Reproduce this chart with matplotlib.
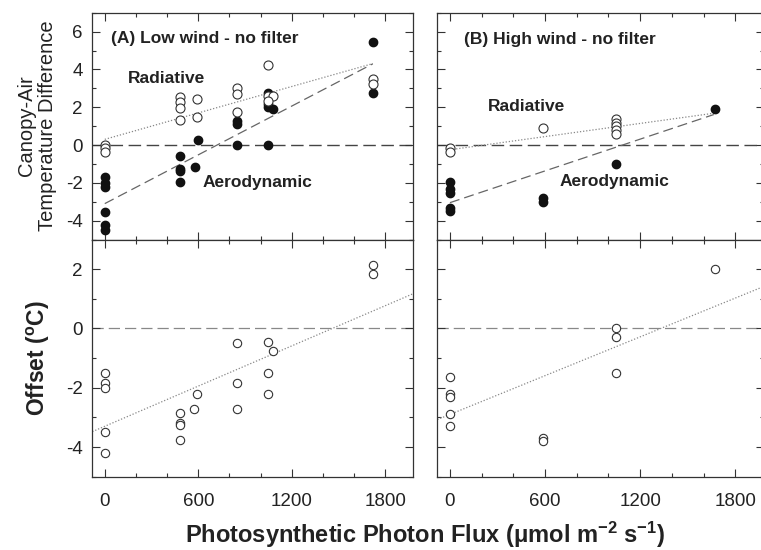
import matplotlib
matplotlib.use('Agg')
import matplotlib.pyplot as plt
import numpy as np
from matplotlib.ticker import MultipleLocator


# canopy-air temperature difference and offset vs PPF, low and high wind


plt.rcParams['font.family'] = ['Liberation Sans', 'DejaVu Sans']
plt.rcParams['axes.unicode_minus'] = False
plt.rcParams['mathtext.fontset'] = 'custom'
plt.rcParams['mathtext.rm'] = 'Liberation Sans'
plt.rcParams['mathtext.bf'] = 'Liberation Sans:bold'
plt.rcParams['mathtext.it'] = 'Liberation Sans:italic'

# (A) low wind, upper panel
a_rad_x = [0, 0, 0, 480, 480, 480, 480, 590, 590, 850, 850, 850, 1050, 1050, 1080, 1050, 1720, 1720]
a_rad_y = [0.0, -0.15, -0.35, 2.55, 2.25, 1.95, 1.3, 2.45, 1.5, 3.0, 2.7, 1.75, 4.25, 2.6, 2.6, 2.35, 3.5, 3.25]
a_aero_x = [0, 0, 0, 0, 0, 0, 480, 480, 480, 480, 600, 580, 850, 850, 850, 1050, 1050, 1050, 1080, 1050, 1720, 1720]
a_aero_y = [-1.7, -2.0, -2.2, -3.55, -4.25, -4.5, -0.6, -1.25, -1.4, -1.95, 0.25, -1.15, 1.25, 1.1, 0.0,
            2.75, 2.15, 2.0, 1.9, 0.0, 5.45, 2.75]

# (B) high wind, upper panel
b_rad_x = [0, 0, 585, 1050, 1050, 1050, 1050, 1050]
b_rad_y = [-0.15, -0.35, 0.9, 1.35, 1.15, 1.0, 0.8, 0.6]
b_aero_x = [0, 0, 0, 0, 0, 585, 585, 1050, 1670]
b_aero_y = [-1.95, -2.35, -2.55, -3.35, -3.5, -2.8, -3.0, -1.0, 1.9]

# offsets, lower panels
a_off_x = [0, 0, 0, 0, 0, 480, 480, 480, 480, 590, 575, 850, 850, 850, 1050, 1050, 1050, 1080, 1720, 1720]
a_off_y = [-1.5, -1.85, -2.0, -3.5, -4.2, -2.85, -3.2, -3.25, -3.75, -2.2, -2.7, -0.5, -1.85, -2.7,
           -0.45, -1.5, -2.2, -0.75, 2.15, 1.85]
b_off_x = [0, 0, 0, 0, 0, 585, 585, 1050, 1050, 1050, 1670]
b_off_y = [-1.65, -2.2, -2.3, -2.9, -3.3, -3.7, -3.8, 0.0, -0.3, -1.5, 2.0]

# regression lines: (intercept, slope, x end)
a_rad_fit = (0.3, 0.00233, 1720)
a_aero_fit = (-3.1, 0.0043, 1720)
b_rad_fit = (-0.25, 0.00116, 1665)
b_aero_fit = (-3.05, 0.0028, 1665)
a_off_fit = (-3.3, 0.00226)
b_off_fit = (-2.9, 0.00218)

x_ticks = [0, 600, 1200, 1800]
xlim = (-80, 1980)


def style_axes(ax, ylim, show_x, show_y):
    ax.set_xlim(*xlim)
    ax.set_ylim(*ylim)
    ax.set_xticks(x_ticks)
    ax.xaxis.set_minor_locator(MultipleLocator(200))
    ax.yaxis.set_major_locator(MultipleLocator(2))
    ax.yaxis.set_minor_locator(MultipleLocator(1))
    ax.tick_params(which='both', direction='in', top=True, right=True, colors='#333333',
                   labelsize=13.5, labelcolor='#222222', width=0.8)
    ax.tick_params(which='major', length=6)
    ax.tick_params(which='minor', length=3)
    ax.tick_params(axis='y', which='major', pad=7)
    ax.tick_params(axis='x', which='major', pad=11.5)
    ax.tick_params(labelbottom=show_x, labelleft=show_y)
    for s in ax.spines.values():
        s.set_color('#333333')
        s.set_linewidth(0.9)


def fit_line(ax, fit, ls, color):
    x = np.array([0, fit[2]])
    ax.plot(x, fit[0] + fit[1] * x, linestyle=ls, color=color, linewidth=0.9, zorder=2)


def upper_panel(ax, rx, ry, ax_, ay, rfit, afit, title, pos):
    ax.axhline(0, color='#444444', linewidth=1.0, dashes=(9, 4), zorder=1)
    fit_line(ax, rfit, (0, (1, 1.5)), '#888888')
    fit_line(ax, afit, (0, (8, 4)), '#666666')
    ax.plot(ax_, ay, 'o', ms=6, color='#111111', mec='#111111', zorder=3)
    ax.plot(rx, ry, 'o', ms=6.5, mfc='white', mec='#333333', mew=0.8, zorder=4)
    for (x, y), s in zip(pos, [title, 'Radiative', 'Aerodynamic']):
        ax.text(x, y, s, fontsize=12.5, fontweight='bold', va='center', color='#222222')


def lower_panel(ax, x, y, fit):
    ax.axhline(0, color='#888888', linewidth=0.9, dashes=(9, 4), zorder=1)
    xl = np.array(xlim)
    ax.plot(xl, fit[0] + fit[1] * xl, linestyle=(0, (1, 1.5)), color='#888888', linewidth=0.9, zorder=2)
    ax.plot(x, y, 'o', ms=6, mfc='white', mec='#333333', mew=0.8, zorder=3)


fig = plt.figure(figsize=(7.61, 5.5), dpi=100)
ax1 = fig.add_axes([0.1213, 0.5645, 0.4218, 0.4124])
ax2 = fig.add_axes([0.5746, 0.5645, 0.4290, 0.4124])
ax3 = fig.add_axes([0.1213, 0.1333, 0.4218, 0.4312])
ax4 = fig.add_axes([0.5746, 0.1333, 0.4290, 0.4312])

upper_panel(ax1, a_rad_x, a_rad_y, a_aero_x, a_aero_y, a_rad_fit, a_aero_fit,
            '(A) Low wind - no filter', [(38, 5.65), (149, 3.5), (630, -2.0)])
upper_panel(ax2, b_rad_x, b_rad_y, b_aero_x, b_aero_y, b_rad_fit, b_aero_fit,
            '(B) High wind - no filter', [(89, 5.6), (242, 2.05), (693, -1.95)])
lower_panel(ax3, a_off_x, a_off_y, a_off_fit)
lower_panel(ax4, b_off_x, b_off_y, b_off_fit)

style_axes(ax1, (-5, 7), False, True)
style_axes(ax2, (-5, 7), False, False)
style_axes(ax3, (-5, 3), True, True)
style_axes(ax4, (-5, 3), True, False)

ax1.set_ylabel('Canopy-Air\nTemperature Difference', fontsize=14.5, color='#222222', labelpad=6,
               linespacing=1.15)
ax3.set_ylabel(r'Offset ($^{\mathbf{o}}$C)', fontsize=16.5, fontweight='bold', color='#222222', labelpad=10)
fig.text(0.558, 0.027, r'Photosynthetic Photon Flux ($\mathbf{\mu}$mol m$^{\mathbf{-2}}$ s$^{\mathbf{-1}}$)',
         fontsize=17, fontweight='bold', color='#222222', ha='center', va='center')

plt.savefig('out.png', dpi=100)
